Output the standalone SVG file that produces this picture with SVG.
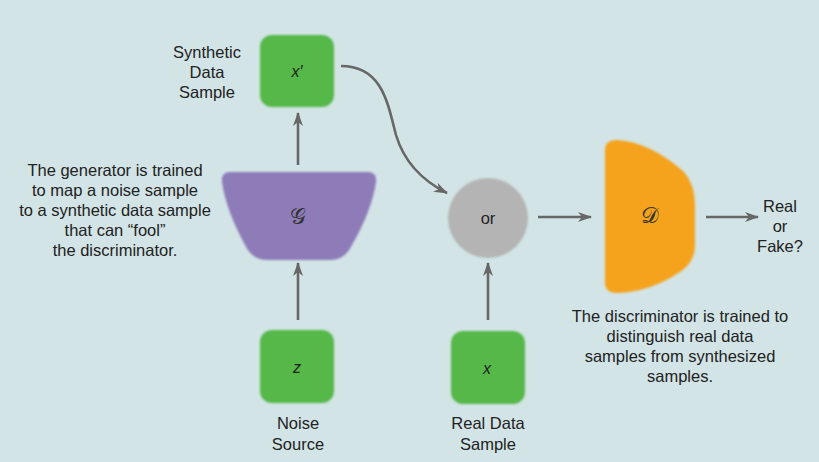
<svg xmlns="http://www.w3.org/2000/svg" width="819" height="462" viewBox="0 0 819 462">
<defs>
<marker id="ah" viewBox="0 0 14 10" refX="13" refY="5" markerWidth="14" markerHeight="10" markerUnits="userSpaceOnUse" orient="auto">
<path d="M0,0 L14,5 L0,10 L4,5 z" fill="#676767"/>
</marker>
<filter id="soft" x="-10%" y="-10%" width="120%" height="120%"><feGaussianBlur stdDeviation="0.8"/></filter>
</defs>
<style>
.box{fill:#55b84a;}
.lbl{font-family:"Liberation Sans",Arial,sans-serif;font-size:16.5px;fill:#222;text-anchor:middle;}
.var{font-family:"Liberation Sans",Arial,sans-serif;font-size:16px;font-style:italic;fill:#222;text-anchor:middle;}
.cal{font-family:"DejaVu Sans","Noto Sans",serif;font-size:22px;fill:#333;text-anchor:middle;}
.conn{stroke:#676767;stroke-width:2.6;fill:none;marker-end:url(#ah);}
</style>
<rect width="819" height="462" fill="#d2e4e6"/>
<g id="connectors">
<line class="conn" x1="298" y1="165" x2="298" y2="113"/>
<line class="conn" x1="298" y1="320" x2="298" y2="263"/>
<line class="conn" x1="488" y1="320" x2="488" y2="263"/>
<line class="conn" x1="538" y1="217" x2="591" y2="217"/>
<line class="conn" x1="706" y1="217" x2="758" y2="217"/>
<path class="conn" d="M341,66 C383,66 388,105 396,135 C405,165 425,182 447,193"/>
</g>
<g id="synthetic">
<rect class="box" x="260" y="35" width="74" height="72" rx="12" filter="url(#soft)"/>
<text class="var" x="297" y="77">x′</text>
<text class="lbl" x="207" y="58">Synthetic</text>
<text class="lbl" x="207" y="78">Data</text>
<text class="lbl" x="207" y="98">Sample</text>
</g>
<g id="generator">
<path d="M230,172 L368,172 Q377,172 376,182 Q372,210 352,245 Q345,260 330,260 L268,260 Q252,260 245,245 Q226,210 222,182 Q221,172 230,172 z" fill="#8e7bb8" filter="url(#soft)"/>
<text class="cal" x="298" y="224">𝒢</text>
</g>
<g id="gen-note">
<text class="lbl" x="115" y="176">The generator is trained</text>
<text class="lbl" x="115" y="196">to map a noise sample</text>
<text class="lbl" x="115" y="216">to a synthetic data sample</text>
<text class="lbl" x="115" y="236">that can “fool”</text>
<text class="lbl" x="115" y="256">the discriminator.</text>
</g>
<g id="noise">
<rect class="box" x="260" y="330" width="74" height="73" rx="12" filter="url(#soft)"/>
<text class="var" x="297" y="373">z</text>
<text class="lbl" x="298" y="429">Noise</text>
<text class="lbl" x="298" y="450">Source</text>
</g>
<g id="real">
<rect class="box" x="451" y="331" width="74" height="73" rx="12" filter="url(#soft)"/>
<text class="var" x="487" y="374">x</text>
<text class="lbl" x="488" y="429">Real Data</text>
<text class="lbl" x="488" y="450">Sample</text>
</g>
<g id="or">
<circle cx="488" cy="218" r="40" fill="#b4b4b4" filter="url(#soft)"/>
<text class="lbl" x="488" y="224">or</text>
</g>
<g id="discriminator">
<path d="M605,150 Q605,140 617,140 Q650,142 684,172 Q695,185 695,205 L695,245 Q695,262 680,272 Q650,292 617,293 Q605,293 605,282 z" fill="#f5a31d" filter="url(#soft)"/>
<text class="cal" x="650" y="223">𝒟</text>
</g>
<g id="disc-note">
<text class="lbl" x="680" y="322">The discriminator is trained to</text>
<text class="lbl" x="680" y="342">distinguish real data</text>
<text class="lbl" x="680" y="362">samples from synthesized</text>
<text class="lbl" x="680" y="382">samples.</text>
</g>
<g id="output">
<text class="lbl" x="780" y="212">Real</text>
<text class="lbl" x="780" y="232">or</text>
<text class="lbl" x="780" y="252">Fake?</text>
</g>
</svg>
